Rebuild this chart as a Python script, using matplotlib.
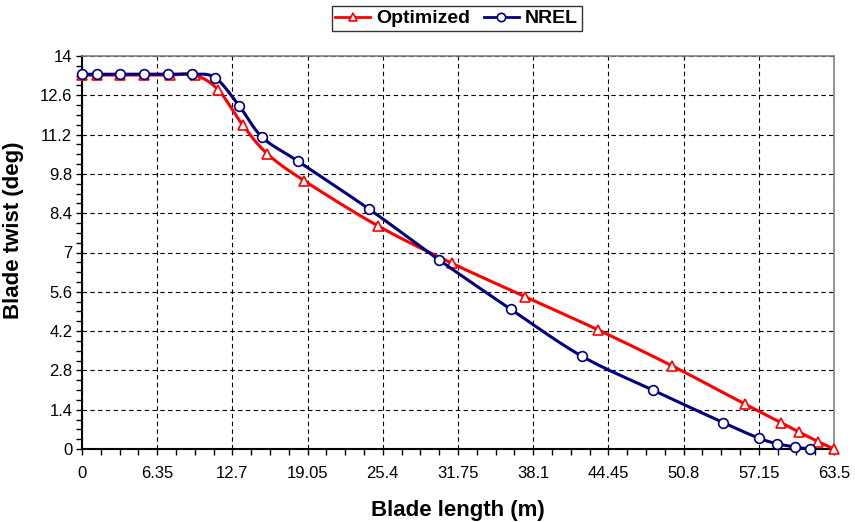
import numpy as np
import matplotlib
matplotlib.use("Agg")
from matplotlib import pyplot as plt
from matplotlib.ticker import MultipleLocator, FixedLocator

plt.rcParams['font.family'] = ['Liberation Sans', 'DejaVu Sans']

# blade length (m) and twist (deg)
opt_x = [0, 1.24, 3.21, 5.24, 7.43, 9.54, 11.51, 13.57, 15.66, 18.75, 25.02,
         31.22, 37.41, 43.6, 49.79, 55.98, 59.02, 60.57, 62.17, 63.5]
opt_y = [13.32, 13.32, 13.32, 13.32, 13.32, 13.32, 12.79, 11.54, 10.51, 9.56, 7.94,
         6.62, 5.43, 4.24, 2.97, 1.60, 0.94, 0.60, 0.26, 0.0]

nrel_x = [0, 1.24, 3.21, 5.24, 7.24, 9.26, 11.23, 13.26, 15.23, 18.2, 24.23,
          30.17, 36.2, 42.19, 48.19, 54.15, 57.19, 58.71, 60.2, 61.47]
nrel_y = [13.35, 13.35, 13.35, 13.35, 13.35, 13.35, 13.23, 12.23, 11.10, 10.26, 8.55,
          6.73, 4.98, 3.31, 2.10, 0.94, 0.38, 0.19, 0.07, 0.0]

x_ticks = [0, 6.35, 12.7, 19.05, 25.4, 31.75, 38.1, 44.45, 50.8, 57.15, 63.5]
y_ticks = [0, 1.4, 2.8, 4.2, 5.6, 7, 8.4, 9.8, 11.2, 12.6, 14]


def smooth(x, y, n=20):
    # excel-style smoothed line (catmull-rom through the points)
    p = np.column_stack([x, y]).astype(float)
    p = np.vstack([p[0], p, p[-1]])
    out = []
    for i in range(1, len(p) - 2):
        p0, p1, p2, p3 = p[i - 1], p[i], p[i + 1], p[i + 2]
        c1 = p1 + (p2 - p0) / 6
        c2 = p2 - (p3 - p1) / 6
        t = np.linspace(0, 1, n)[:, None]
        seg = ((1 - t) ** 3 * p1 + 3 * (1 - t) ** 2 * t * c1
               + 3 * (1 - t) * t ** 2 * c2 + t ** 3 * p2)
        out.append(seg)
    s = np.vstack(out)
    return s[:, 0], s[:, 1]


fig = plt.figure(figsize=(8.55, 5.22), dpi=100)
ax = fig.add_axes([82 / 855, 1 - 449 / 522, 752 / 855, 393 / 522])

red = '#ff0000'
blue = '#000080'

sx, sy = smooth(opt_x, opt_y)
ax.plot(sx, sy, color=red, lw=2.2, zorder=3, clip_on=False)
ax.plot(opt_x, opt_y, ls='none', marker='^', ms=7, mfc='white', mec=red, mew=1.2,
        zorder=4, clip_on=False)

sx, sy = smooth(nrel_x, nrel_y)
ax.plot(sx, sy, color=blue, lw=2.2, zorder=5, clip_on=False)
ax.plot(nrel_x, nrel_y, ls='none', marker='o', ms=7, mfc='white', mec=blue, mew=1.2,
        zorder=6, clip_on=False)

# legend handles
h1, = ax.plot([], [], color=red, lw=2, marker='^', ms=6, mfc='white', mec=red, mew=1.2)
h2, = ax.plot([], [], color=blue, lw=2, marker='o', ms=6, mfc='white', mec=blue, mew=1.2)
leg = fig.legend([h1, h2], ['Optimized', 'NREL'], loc='upper center', ncol=2,
                 bbox_to_anchor=(0.534, 1.0), frameon=True, fancybox=False,
                 prop={'weight': 'bold', 'size': 14}, handlelength=1.8,
                 handletextpad=0.3, columnspacing=0.7, borderpad=0.2,
                 borderaxespad=0.3)
leg.get_frame().set_edgecolor('black')
leg.get_frame().set_linewidth(1)

ax.set_xlim(0, 63.5)
ax.set_ylim(0, 14)
ax.xaxis.set_major_locator(FixedLocator(x_ticks))
ax.yaxis.set_major_locator(FixedLocator(y_ticks))
ax.xaxis.set_minor_locator(MultipleLocator(6.35 / 4))
ax.yaxis.set_minor_locator(MultipleLocator(0.35))
ax.set_xticklabels([f'{v:g}' for v in x_ticks])
ax.set_yticklabels([f'{v:g}' for v in y_ticks])
ax.tick_params(which='both', direction='out', length=4, width=1, labelsize=12, color='black')
ax.tick_params(axis='x', pad=8)
ax.tick_params(axis='y', pad=3)

ax.grid(True, which='major', color='black', ls=(0, (4, 3)), lw=0.8)
ax.set_axisbelow(True)

for s in ['left', 'bottom']:
    ax.spines[s].set_linewidth(1.5)
    ax.spines[s].set_color('black')
for s in ['top', 'right']:
    ax.spines[s].set_linewidth(1.2)
    ax.spines[s].set_color('#808080')

ax.set_xlabel('Blade length (m)', fontsize=16, fontweight='bold', labelpad=14)
ax.set_ylabel('Blade twist (deg)', fontsize=16, fontweight='bold')
ax.yaxis.set_label_coords(-0.077, 0.557)

fig.savefig('out.png', dpi=100)
